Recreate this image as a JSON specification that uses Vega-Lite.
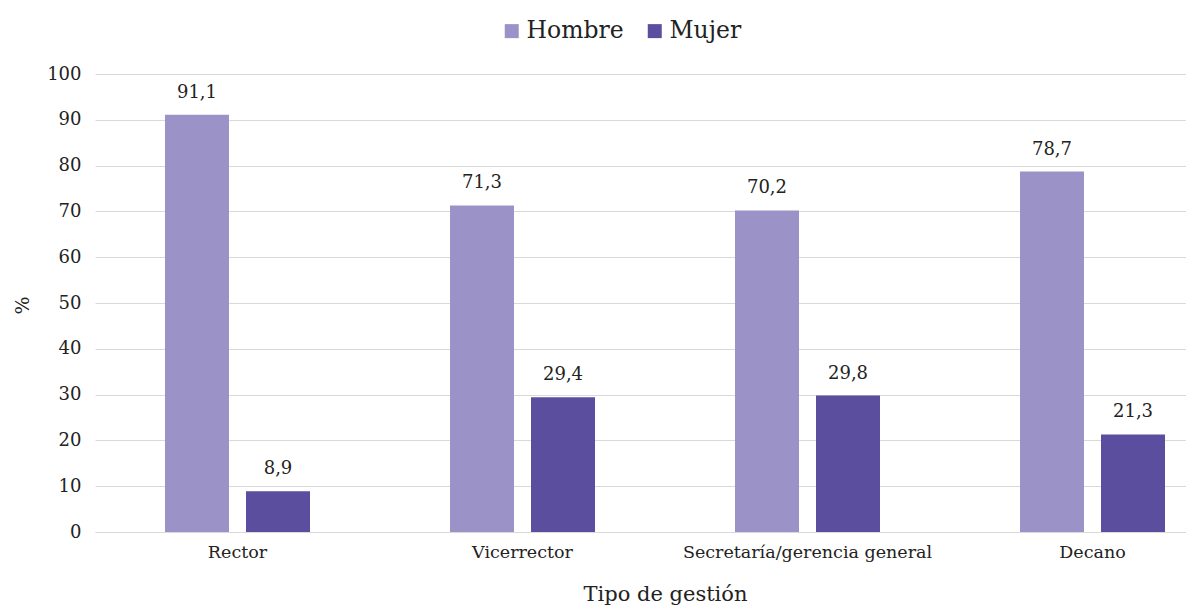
{
  "$schema": "https://vega.github.io/schema/vega-lite/v6.json",
  "width": 1140,
  "height": 458,
  "autosize": {"type": "none"},
  "padding": {"left": 95, "top": 74, "right": 0, "bottom": 75},
  "background": "white",
  "config": {
    "font": "DejaVu Serif",
    "view": {"stroke": null},
    "locale": {"number": {"decimal": ",", "thousands": ".", "grouping": [3], "currency": ["", ""]}}
  },
  "data": {
    "values": [
      {"tipo": "Rector", "sexo": "Hombre", "valor": 91.1},
      {"tipo": "Rector", "sexo": "Mujer", "valor": 8.9},
      {"tipo": "Vicerrector", "sexo": "Hombre", "valor": 71.3},
      {"tipo": "Vicerrector", "sexo": "Mujer", "valor": 29.4},
      {"tipo": "Secretaría/gerencia general", "sexo": "Hombre", "valor": 70.2},
      {"tipo": "Secretaría/gerencia general", "sexo": "Mujer", "valor": 29.8},
      {"tipo": "Decano", "sexo": "Hombre", "valor": 78.7},
      {"tipo": "Decano", "sexo": "Mujer", "valor": 21.3}
    ]
  },
  "encoding": {
    "x": {
      "field": "tipo", "type": "nominal", "sort": null,
      "scale": {"paddingInner": 0.4912, "paddingOuter": 0.2456},
      "axis": {
        "title": "Tipo de gestión", "labelAngle": 0, "ticks": false, "labelLimit": 400,
        "labelFont": "DejaVu Serif", "labelFontSize": 17.5, "labelColor": "#222",
        "labelPadding": 11, "domainColor": "#d9d9d9", "domainWidth": 1,
        "titleFont": "DejaVu Serif", "titleFontSize": 21, "titleFontWeight": "normal",
        "titleColor": "#222", "titleY": 68, "titleBaseline": "alphabetic"
      }
    },
    "xOffset": {"field": "sexo", "type": "nominal", "scale": {"paddingInner": 0.21, "paddingOuter": 0}},
    "y": {
      "field": "valor", "type": "quantitative",
      "scale": {"domain": [0, 100]},
      "axis": {
        "title": "%", "values": [0,10,20,30,40,50,60,70,80,90,100], "labelOverlap": false,
        "ticks": false, "domain": false, "gridColor": "#d9d9d9", "gridWidth": 1,
        "labelFont": "DejaVu Serif", "labelFontSize": 18, "labelColor": "#222", "labelPadding": 14,
        "titleFont": "DejaVu Serif", "titleFontSize": 19, "titleFontWeight": "normal",
        "titleColor": "#222", "titleX": -63, "titleY": 231
      }
    }
  },
  "layer": [
    {
      "mark": {"type": "bar"},
      "encoding": {
        "color": {
          "field": "sexo", "type": "nominal",
          "scale": {"domain": ["Hombre", "Mujer"], "range": ["#9b93c8", "#5b4e9f"]},
          "legend": {
            "title": null, "orient": "none", "direction": "horizontal",
            "legendX": 405, "legendY": -55,
            "symbolType": "square", "symbolSize": 196, "symbolStrokeWidth": 0,
            "labelFont": "DejaVu Serif", "labelFontSize": 23.5, "labelColor": "#222",
            "columnPadding": 19, "labelOffset": 3
          }
        }
      }
    },
    {
      "mark": {"type": "text", "dy": -17, "baseline": "alphabetic", "fontSize": 18, "font": "DejaVu Serif", "color": "#222"},
      "encoding": {
        "text": {"field": "valor", "type": "quantitative", "format": ".1f"}
      }
    }
  ]
}
